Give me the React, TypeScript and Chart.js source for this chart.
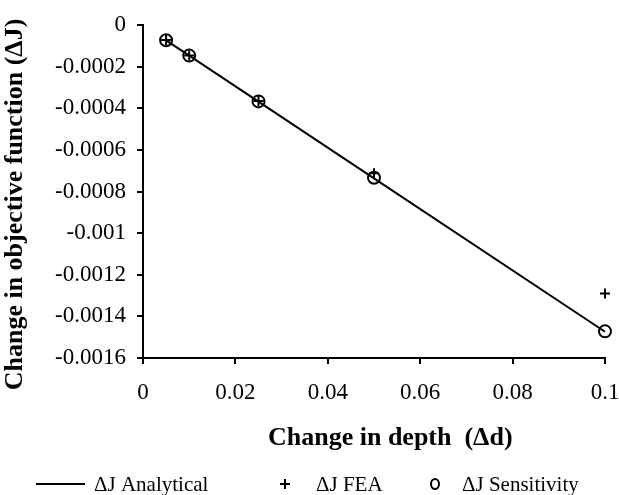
import React, { useEffect, useRef } from 'react';
import { Chart, registerables } from 'chart.js';

Chart.register(...registerables);

const depthChanges = [0.005, 0.01, 0.025, 0.05, 0.1];
const analyticalValues = [-0.0000737, -0.0001474, -0.0003685, -0.000737, -0.001474];
const feaValues = [-0.000072, -0.000146, -0.000365, -0.000712, -0.00129];
const sensitivityValues = [-0.000073, -0.000147, -0.000367, -0.000734, -0.001472];
const seriesLabels = ['ΔJ Analytical', 'ΔJ FEA', 'ΔJ Sensitivity'];

const xTickValues = [0, 0.02, 0.04, 0.06, 0.08, 0.1];
const xTickLabels = ['0', '0.02', '0.04', '0.06', '0.08', '0.1'];
const yTickValues = [0, -0.0002, -0.0004, -0.0006, -0.0008, -0.001, -0.0012, -0.0014, -0.0016];
const yTickLabels = ['0', '-0.0002', '-0.0004', '-0.0006', '-0.0008', '-0.001', '-0.0012', '-0.0014', '-0.0016'];

const xTitle = '     Change in depth  (Δd)';
const yTitle = 'Change in objective function (ΔJ)    ';

const FONT = "'Liberation Serif', 'Times New Roman', serif";

const labelFor = (values: number[], labels: string[]) => (v: any) => {
  const i = values.findIndex((t) => Math.abs(t - Number(v)) < 1e-9);
  return i >= 0 ? labels[i] : '';
};

const legendPlugin = {
  id: 'customLegend',
  afterDraw(chart: any) {
    const ctx = chart.ctx;
    const y = 484;
    ctx.save();
    ctx.strokeStyle = '#000';
    ctx.fillStyle = '#000';
    ctx.font = `21px ${FONT}`;
    ctx.textBaseline = 'middle';
    ctx.textAlign = 'left';
    // line sample
    ctx.lineWidth = 2;
    ctx.beginPath();
    ctx.moveTo(36, y);
    ctx.lineTo(85, y);
    ctx.stroke();
    ctx.fillText(chart.data.datasets[0].label, 94, y + 1);
    // cross sample
    ctx.beginPath();
    ctx.moveTo(280, y);
    ctx.lineTo(290, y);
    ctx.moveTo(285, y - 5);
    ctx.lineTo(285, y + 5);
    ctx.stroke();
    ctx.fillText(chart.data.datasets[1].label, 316, y + 1);
    // circle sample
    ctx.beginPath();
    ctx.ellipse(435, y, 4, 5, 0, 0, Math.PI * 2);
    ctx.stroke();
    ctx.fillText(chart.data.datasets[2].label, 462, y + 1);
    ctx.restore();
  },
};

export default function App() {
  const ref = useRef<HTMLCanvasElement | null>(null);
  useEffect(() => {
    if (!ref.current) return;
    const toPts = (vals: number[]) => depthChanges.map((x, i) => ({ x, y: vals[i] }));
    const axisCommon = {
      grid: {
        display: true,
        drawOnChartArea: false,
        drawTicks: true,
        tickLength: 6,
        lineWidth: 2,
        color: '#000',
      },
      border: { display: true, color: '#000', width: 2 },
    };
    const chart = new Chart(ref.current, {
      type: 'scatter',
      data: {
        datasets: [
          {
            label: seriesLabels[0],
            data: toPts(analyticalValues),
            showLine: true,
            borderColor: '#000',
            borderWidth: 2,
            pointRadius: 0,
            tension: 0,
            clip: false,
          },
          {
            label: seriesLabels[1],
            data: toPts(feaValues),
            showLine: false,
            pointStyle: 'cross',
            pointRadius: 5,
            borderWidth: 2,
            borderColor: '#000',
            backgroundColor: '#000',
            clip: false,
          },
          {
            label: seriesLabels[2],
            data: toPts(sensitivityValues),
            showLine: false,
            pointStyle: 'circle',
            pointRadius: 6,
            borderWidth: 2,
            borderColor: '#000',
            backgroundColor: 'rgba(0,0,0,0)',
            clip: false,
          },
        ],
      },
      options: {
        responsive: true,
        maintainAspectRatio: false,
        animation: false,
        layout: { padding: { top: 25, right: 14, bottom: 40, left: 0 } },
        plugins: {
          legend: { display: false },
          tooltip: { enabled: false },
        },
        scales: {
          x: {
            type: 'linear',
            min: 0,
            max: 0.1,
            afterBuildTicks: (s: any) => {
              s.ticks = xTickValues.map((value) => ({ value }));
            },
            afterFit: (s: any) => {
              s.height = 97;
              s.paddingRight = 0;
              s.paddingLeft = 0;
            },
            ticks: {
              color: '#000',
              font: { family: FONT, size: 23 },
              padding: 15,
              maxRotation: 0,
              autoSkip: false,
              callback: labelFor(xTickValues, xTickLabels),
            },
            title: {
              display: true,
              text: xTitle,
              color: '#000',
              font: { family: FONT, size: 26, weight: 'bold' },
              padding: { top: 0, bottom: 1 },
            },
            ...axisCommon,
          },
          y: {
            type: 'linear',
            min: -0.0016,
            max: 0,
            afterBuildTicks: (s: any) => {
              s.ticks = yTickValues.slice().reverse().map((value) => ({ value }));
            },
            afterFit: (s: any) => {
              s.width = 143;
              s.paddingTop = 0;
              s.paddingBottom = 0;
            },
            ticks: {
              color: '#000',
              font: { family: FONT, size: 23 },
              padding: 11,
              autoSkip: false,
              callback: labelFor(yTickValues, yTickLabels),
            },
            title: {
              display: true,
              text: yTitle,
              color: '#000',
              font: { family: FONT, size: 26, weight: 'bold' },
              padding: { top: 0, bottom: 0 },
            },
            ...axisCommon,
          },
        },
      } as any,
      plugins: [legendPlugin],
    });
    return () => chart.destroy();
  }, []);
  return (
    <div style={{ position: 'fixed', left: 0, top: 0, width: 619, height: 495, background: '#fff' }}>
      <canvas ref={ref} />
    </div>
  );
}
